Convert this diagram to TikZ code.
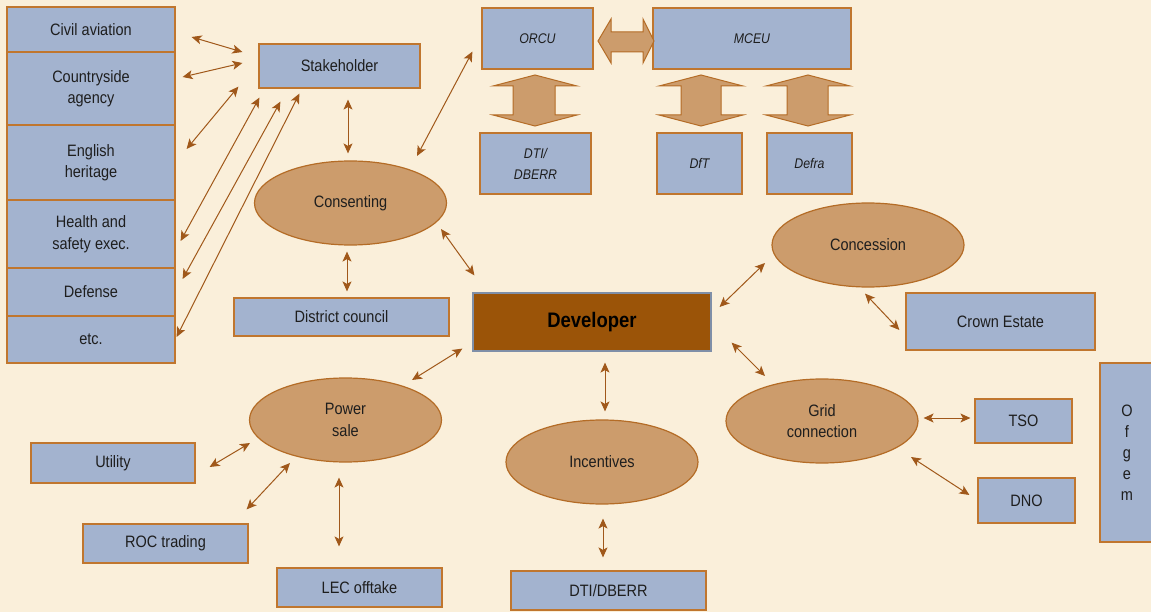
\documentclass[tikz,border=0pt]{standalone}
\usepackage{fontspec}
\setmainfont{Liberation Sans}[FakeStretch=0.88]
\usetikzlibrary{shapes.geometric,arrows.meta}
\definecolor{bg}{HTML}{FAEFDA}
\definecolor{boxfill}{HTML}{A3B3CF}
\definecolor{boxline}{HTML}{C0762E}
\definecolor{ellfill}{HTML}{CC9C6C}
\definecolor{ellline}{HTML}{B46C26}
\definecolor{devfill}{HTML}{9B5408}
\definecolor{devline}{HTML}{7F8FA8}
\definecolor{arrcol}{HTML}{A0581A}
\definecolor{txt}{HTML}{1E1E1E}
\tikzset{
  box/.style={draw=boxline, fill=boxfill, line width=1.2pt, inner sep=0pt, text=txt,
    font=\fontsize{16.5}{21.5}\selectfont, align=center},
  ibox/.style={box, font=\fontsize{14}{21}\selectfont\itshape},
  ell/.style={ellipse, draw=ellline, fill=ellfill, line width=1.2pt, inner sep=0pt,
    minimum width=192pt, minimum height=84pt, text=txt,
    font=\fontsize{16.5}{21.5}\selectfont, align=center},
  arr/.style={draw=arrcol, line width=1pt, {Stealth[length=10pt,width=9pt,inset=2.5pt]}-{Stealth[length=10pt,width=9pt,inset=2.5pt]}},
  fat/.style={draw=ellline, fill=ellfill, line width=1pt, line join=miter}
}
\begin{document}
\begin{tikzpicture}[x=1pt,y=-1pt]
\fill[bg] (0,0) rectangle (1151,612);
\useasboundingbox (0,0) rectangle (1151,612);
% left column
\node[box, minimum width=168pt, minimum height=45pt] (civil) at (91,29.5) {Civil aviation};
\node[box, minimum width=168pt, minimum height=73pt] (country) at (91,88.5) {Countryside\\agency};
\node[box, minimum width=168pt, minimum height=75pt] (english) at (91,162.5) {English\\heritage};
\node[box, minimum width=168pt, minimum height=68pt] (health) at (91,234) {Health and\\safety exec.};
\node[box, minimum width=168pt, minimum height=48pt] (defense) at (91,292) {Defense};
\node[box, minimum width=168pt, minimum height=47pt] (etc) at (91,339.5) {etc.};
% top
\node[box, minimum width=161pt, minimum height=44pt] (stake) at (339.5,66) {Stakeholder};
\node[ibox, minimum width=111pt, minimum height=61pt] (orcu) at (537.5,38.5) {ORCU};
\node[ibox, minimum width=198pt, minimum height=61pt] (mceu) at (752,38.5) {MCEU};
\node[ibox, minimum width=111pt, minimum height=61pt] (dti1) at (535.5,163.5) {DTI/\\DBERR};
\node[ibox, minimum width=85pt, minimum height=61pt] (dft) at (699.5,163.5) {DfT};
\node[ibox, minimum width=85pt, minimum height=61pt] (defra) at (809.5,163.5) {Defra};
% middle
\node[ell] (cons) at (350.5,203) {Consenting};
\node[box, minimum width=215pt, minimum height=38pt] (district) at (341.5,317) {District council};
\node[box, draw=devline, fill=devfill, minimum width=238pt, minimum height=58pt,
  font=\fontsize{21}{24}\selectfont\bfseries, text=black] (dev) at (592,322) {Developer};
\node[ell] (conc) at (868,245) {Concession};
\node[box, minimum width=189pt, minimum height=57pt] (crown) at (1000.5,321.5) {Crown Estate};
\node[ell] (grid) at (822,421) {Grid\\connection};
\node[box, minimum width=97pt, minimum height=44pt] (tso) at (1023.5,421) {TSO};
\node[box, minimum width=97pt, minimum height=45pt] (dno) at (1026.5,500.5) {DNO};
\node[box, minimum width=54pt, minimum height=179pt, font=\fontsize{16.5}{21}\selectfont] (ofgem) at (1127,452.5) {O\\f\\g\\e\\m};
% bottom
\node[ell] (power) at (345.5,420) {Power\\sale};
\node[ell] (inc) at (602,462) {Incentives};
\node[box, minimum width=164pt, minimum height=40pt] (utility) at (113,463) {Utility};
\node[box, minimum width=165pt, minimum height=39pt] (roc) at (165.5,543.5) {ROC trading};
\node[box, minimum width=165pt, minimum height=39pt] (lec) at (359.5,587.5) {LEC offtake};
\node[box, minimum width=195pt, minimum height=39pt] (dti2) at (608.5,590.5) {DTI/DBERR};
% fat arrows
\draw[fat] (598,41) -- (611,19) -- (611,32) -- (643,32) -- (643,19) -- (654,41) -- (643,63) -- (643,52) -- (611,52) -- (611,63) -- cycle;
\draw[fat] (535,75) -- (577,86) -- (555,86) -- (555,115) -- (577,115) -- (535,126) -- (493,115) -- (513,115) -- (513,86) -- (493,86) -- cycle;
\draw[fat] (701,75) -- (743,86) -- (721,86) -- (721,115) -- (743,115) -- (701,126) -- (659,115) -- (681,115) -- (681,86) -- (659,86) -- cycle;
\draw[fat] (808,75) -- (850,86) -- (828,86) -- (828,115) -- (850,115) -- (808,126) -- (766,115) -- (787,115) -- (787,86) -- (766,86) -- cycle;
% thin arrows
\draw[arr] ([shift={(16,7.5)}]civil.east) -- ([shift={(-16,-14)}]stake.west);
\draw[arr] ([shift={(7,-11.5)}]country.east) -- ([shift={(-16,-3)}]stake.west);
\draw[arr] ([shift={(11,-13.5)}]english.east) -- ([shift={(-20,-2)}]stake.south west);
\draw[arr] ([shift={(5,7)}]health.east) -- ([shift={(1,9)}]stake.south west);
\draw[arr] ([shift={(7,-13)}]defense.east) -- ([shift={(22,13)}]stake.south west);
\draw[arr] ([shift={(1,-2.5)}]etc.east) -- ([shift={(41,5)}]stake.south west);
\draw[arr] ([shift={(8.5,11)}]stake.south) -- ([shift={(-2.5,-7)}]cons.north);
\draw[arr] ([shift={(-3.5,6)}]cons.south) -- ([shift={(5.5,-6)}]district.north);
\draw[arr] ([shift={(66.5,-47)}]cons.center) -- ([shift={(-9,-18)}]orcu.south west);
\draw[arr] ([shift={(90.5,26)}]cons.center) -- ([shift={(2,-17)}]dev.north west);
\draw[arr] ([shift={(-10,-3)}]dev.south west) -- ([shift={(66.5,-40)}]power.center);
\draw[arr] ([shift={(13,11)}]dev.south) -- ([shift={(3,-8)}]inc.north);
\draw[arr] ([shift={(1,14)}]inc.south) -- ([shift={(-5.5,-13)}]dti2.north);
\draw[arr] ([shift={(8,-15)}]dev.east) -- ([shift={(-103,18)}]conc.center);
\draw[arr] ([shift={(-3,6)}]conc.south) -- ([shift={(-6,8.5)}]crown.west);
\draw[arr] ([shift={(20,-9)}]dev.south east) -- ([shift={(-57,-45)}]grid.center);
\draw[arr] ([shift={(5,-3)}]grid.east) -- ([shift={(-4,-3)}]tso.west);
\draw[arr] ([shift={(89,36)}]grid.center) -- ([shift={(-8,-5.5)}]dno.west);
\draw[arr] ([shift={(14,4)}]utility.east) -- ([shift={(-95.5,23)}]power.center);
\draw[arr] ([shift={(-2,-14)}]roc.north east) -- ([shift={(-55.5,43)}]power.center);
\draw[arr] ([shift={(-6.5,15)}]power.south) -- ([shift={(-20.5,-21)}]lec.north);
\end{tikzpicture}
\end{document}
